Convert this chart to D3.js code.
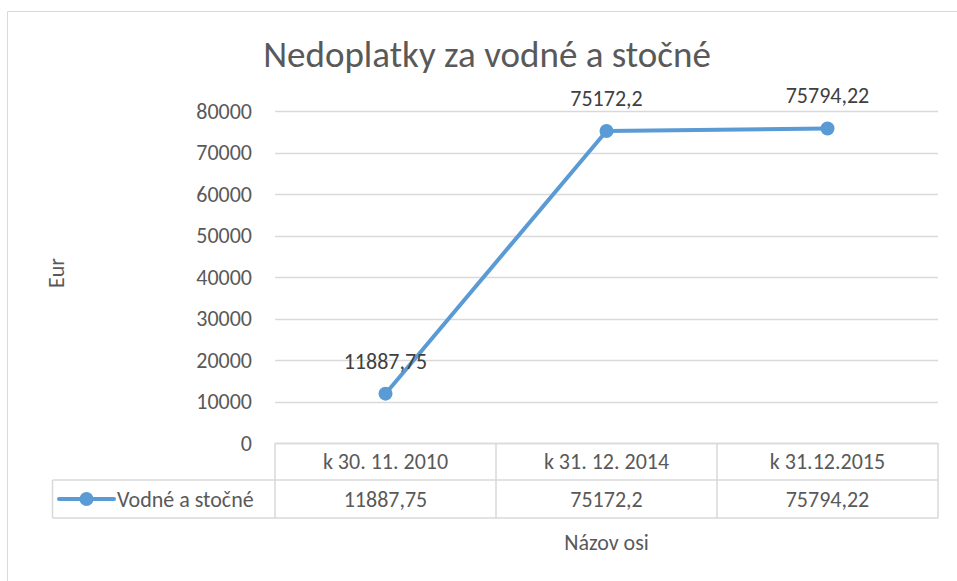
<!DOCTYPE html>
<html>
<head>
<meta charset="utf-8">
<script src="https://cdn.jsdelivr.net/npm/d3@7"></script>
<style>
  body { margin: 0; background: #fff; }
  text { font-family: Carlito, Calibri, Lato, sans-serif; }
</style>
</head>
<body>
<div id="chart"></div>
<script>
// chart data
var categories = ["k 30. 11. 2010", "k 31. 12. 2014", "k 31.12.2015"];
var values = [11887.75, 75172.2, 75794.22];
var valueLabels = ["11887,75", "75172,2", "75794,22"];
var yTicks = [0, 10000, 20000, 30000, 40000, 50000, 60000, 70000, 80000];
var seriesName = "Vodné a stočné";

var svgWidth = 957;
var svgHeight = 581;

var margin = { top: 111, right: 19, bottom: 138, left: 275 };
var width = svgWidth - margin.left - margin.right;   // 663
var height = svgHeight - margin.top - margin.bottom; // 332

var labelSize = "22px";

var svg = d3.select("#chart")
    .append("svg")
    .attr("width", svgWidth)
    .attr("height", svgHeight);

// outer chart border (left + top only visible)
svg.append("path")
    .attr("d", "M7.5,581 L7.5,11.5 L957,11.5")
    .attr("fill", "none")
    .attr("stroke", "#d9d9d9")
    .attr("stroke-width", 1);

// title
svg.append("text")
    .attr("x", 487)
    .attr("y", 67)
    .attr("text-anchor", "middle")
    .attr("font-size", "37px")
    .attr("fill", "#595959")
    .text("Nedoplatky za vodné a stočné");

var chartGroup = svg.append("g")
    .attr("transform", `translate(${margin.left}, ${margin.top})`);

var xScale = d3.scaleBand()
    .domain(categories)
    .range([0, width]);

var yScale = d3.scaleLinear()
    .domain([0, 80000])
    .range([height, 0]);

// gridlines
chartGroup.selectAll(".grid")
    .data(yTicks)
    .enter()
    .append("line")
    .attr("x1", 0)
    .attr("x2", width)
    .attr("y1", d => Math.round(yScale(d)) + 0.5)
    .attr("y2", d => Math.round(yScale(d)) + 0.5)
    .attr("stroke", "#d9d9d9")
    .attr("stroke-width", 1.5);

// y axis labels
var leftAxis = d3.axisLeft(yScale).tickValues(yTicks).tickSize(0).tickPadding(23).tickFormat(d3.format("d"));
var yAxisG = chartGroup.append("g").call(leftAxis);
yAxisG.select(".domain").remove();
yAxisG.selectAll("text")
    .attr("font-size", labelSize)
    .attr("fill", "#595959")
    .style("font-family", "Carlito, Calibri, Lato, sans-serif");

// y axis title
svg.append("text")
    .attr("transform", "translate(64, 273) rotate(-90)")
    .attr("text-anchor", "middle")
    .attr("font-size", labelSize)
    .attr("fill", "#595959")
    .text("Eur");

// line
var line = d3.line()
    .x((d, i) => xScale(categories[i]) + xScale.bandwidth() / 2)
    .y(d => yScale(d));

chartGroup.append("path")
    .datum(values)
    .attr("d", line)
    .attr("fill", "none")
    .attr("stroke", "#5b9bd5")
    .attr("stroke-width", 4)
    .attr("stroke-linejoin", "round");

chartGroup.selectAll(".dot")
    .data(values)
    .enter()
    .append("circle")
    .attr("cx", (d, i) => xScale(categories[i]) + xScale.bandwidth() / 2)
    .attr("cy", d => yScale(d))
    .attr("r", 7)
    .attr("fill", "#5b9bd5");

// data labels
chartGroup.selectAll(".dlabel")
    .data(values)
    .enter()
    .append("text")
    .attr("x", (d, i) => xScale(categories[i]) + xScale.bandwidth() / 2)
    .attr("y", d => yScale(d) - 25)
    .attr("text-anchor", "middle")
    .attr("font-size", labelSize)
    .attr("fill", "#404040")
    .text((d, i) => valueLabels[i]);

// data table
var rowTop = height;
var rowMid = height + 37;
var rowBot = height + 75;
var tableColor = "#d9d9d9";
var tableG = chartGroup.append("g");

// horizontal lines
tableG.append("line").attr("x1", 0).attr("x2", width).attr("y1", rowTop + 0.5).attr("y2", rowTop + 0.5)
    .attr("stroke", tableColor).attr("stroke-width", 1.5);
tableG.append("line").attr("x1", 52.5 - margin.left).attr("x2", width).attr("y1", rowMid).attr("y2", rowMid)
    .attr("stroke", tableColor).attr("stroke-width", 1.5);
tableG.append("line").attr("x1", 52.5 - margin.left).attr("x2", width).attr("y1", rowBot).attr("y2", rowBot)
    .attr("stroke", tableColor).attr("stroke-width", 1.5);

// vertical lines
var vlines = categories.map(c => xScale(c)).concat([width]);
tableG.selectAll(".vline")
    .data(vlines)
    .enter()
    .append("line")
    .attr("x1", d => d)
    .attr("x2", d => d)
    .attr("y1", rowTop)
    .attr("y2", rowBot)
    .attr("stroke", tableColor)
    .attr("stroke-width", 1.5);
tableG.append("line").attr("x1", 52.5 - margin.left).attr("x2", 52.5 - margin.left).attr("y1", rowMid).attr("y2", rowBot)
    .attr("stroke", tableColor).attr("stroke-width", 1.5);

// category labels
tableG.selectAll(".cat")
    .data(categories)
    .enter()
    .append("text")
    .attr("x", d => xScale(d) + xScale.bandwidth() / 2)
    .attr("y", (rowTop + rowMid) / 2)
    .attr("dy", "0.35em")
    .attr("text-anchor", "middle")
    .attr("font-size", labelSize)
    .attr("fill", "#595959")
    .text(d => d);

// value cells
tableG.selectAll(".val")
    .data(values)
    .enter()
    .append("text")
    .attr("x", (d, i) => xScale(categories[i]) + xScale.bandwidth() / 2)
    .attr("y", (rowMid + rowBot) / 2)
    .attr("dy", "0.35em")
    .attr("text-anchor", "middle")
    .attr("font-size", labelSize)
    .attr("fill", "#595959")
    .text((d, i) => valueLabels[i]);

// legend key in table
var keyY = (rowMid + rowBot) / 2;
tableG.append("line")
    .attr("x1", 59 - margin.left).attr("x2", 114 - margin.left)
    .attr("y1", keyY).attr("y2", keyY)
    .attr("stroke", "#5b9bd5").attr("stroke-width", 4).attr("stroke-linecap", "round");
tableG.append("circle")
    .attr("cx", 86.5 - margin.left).attr("cy", keyY).attr("r", 7).attr("fill", "#5b9bd5");
tableG.append("text")
    .attr("x", 117 - margin.left)
    .attr("y", keyY)
    .attr("dy", "0.35em")
    .attr("font-size", labelSize)
    .attr("fill", "#595959")
    .text(seriesName);

// x axis title
svg.append("text")
    .attr("x", margin.left + width / 2)
    .attr("y", 542)
    .attr("dy", "0.35em")
    .attr("text-anchor", "middle")
    .attr("font-size", labelSize)
    .attr("fill", "#595959")
    .text("Názov osi");
</script>
</body>
</html>
